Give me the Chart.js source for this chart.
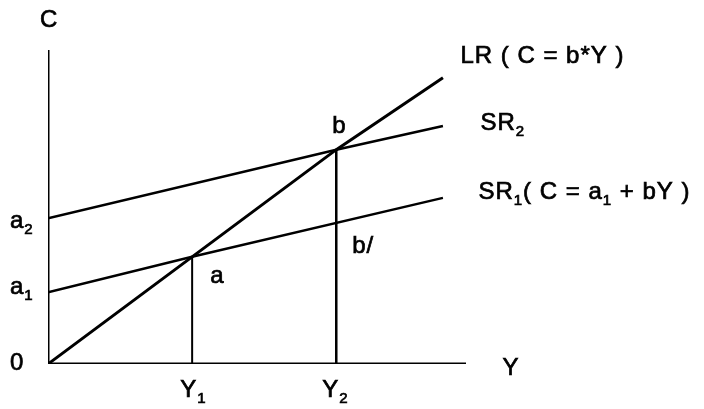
<!DOCTYPE html>
<html>
<head>
<meta charset="utf-8">
<script src="https://cdn.jsdelivr.net/npm/chart.js@4"></script>
<style>
  html, body { margin: 0; padding: 0; background: #fff; }
  #wrap { width: 704px; height: 409px; }
</style>
</head>
<body>
<div id="wrap"><canvas id="consumptionChart"></canvas></div>
<script>
// curves (Y on x axis, C on y axis)
const lrLine = [{ x: 0, y: 0 }, { x: 2, y: 2 }, { x: 2.74, y: 2.67 }];
const sr2Line = [{ x: 0, y: 1.36 }, { x: 2, y: 2 }, { x: 2.74, y: 2.22 }];
const sr1Line = [{ x: 0, y: 0.67 }, { x: 1, y: 1 }, { x: 2.74, y: 1.55 }];
const dropY1 = [{ x: 1, y: 0 }, { x: 1, y: 1 }];
const dropY2 = [{ x: 2, y: 0 }, { x: 2, y: 2 }];
const axisC = [{ x: 0, y: 0 }, { x: 0, y: 2.93 }];
const axisY = [{ x: 0, y: 0 }, { x: 2.9, y: 0 }];

// text labels: parts are [text, isSubscript]
const labels = [
  { x: -0.056, y: 3.14, parts: [["C", false]] },
  { x: -0.264, y: -0.056, parts: [["0", false]] },
  { x: -0.264, y: 0.654, parts: [["a", false], ["1", true]] },
  { x: -0.264, y: 1.271, parts: [["a", false], ["2", true]] },
  { x: 0.917, y: -0.308, parts: [["Y", false], ["1", true]] },
  { x: 1.903, y: -0.308, parts: [["Y", false], ["2", true]] },
  { x: 3.153, y: -0.103, parts: [["Y", false]] },
  { x: 1.125, y: 0.757, parts: [["a", false]] },
  { x: 2.111, y: 1.037, parts: [["b/", false]] },
  { x: 1.972, y: 2.159, parts: [["b", false]] },
  { x: 2.861, y: 2.813, parts: [["LR ( C = b*Y )", false]] },
  { x: 3.0, y: 2.187, parts: [["SR", false], ["2", true]] },
  { x: 2.986, y: 1.542, parts: [["SR", false], ["1", true], ["( C = a", false], ["1", true], [" + bY )", false]] },
];

const FONT = '"Liberation Sans", Arial, sans-serif';

const textPlugin = {
  id: "textLabels",
  afterDraw(chart) {
    const ctx = chart.ctx;
    const xs = chart.scales.x, ys = chart.scales.y;
    ctx.save();
    ctx.fillStyle = "#000";
    ctx.strokeStyle = "#000";
    ctx.lineWidth = 0.7;
    ctx.textAlign = "left";
    ctx.textBaseline = "alphabetic";
    ctx.letterSpacing = "1px";
    labels.forEach((lb) => {
      let px = xs.getPixelForValue(lb.x);
      const py = ys.getPixelForValue(lb.y);
      lb.parts.forEach(([t, sub]) => {
        ctx.font = sub ? "15px " + FONT : "24px " + FONT;
        const ty = sub ? py + 6 : py;
        ctx.fillText(t, px, ty);
        ctx.strokeText(t, px, ty);
        px += ctx.measureText(t).width;
      });
    });
    ctx.restore();
  },
};

function lineSet(data, width) {
  return {
    data: data,
    borderColor: "#000",
    borderWidth: width,
    pointRadius: 0,
    tension: 0,
    fill: false,
  };
}

new Chart(document.getElementById("consumptionChart").getContext("2d"), {
  type: "line",
  data: {
    datasets: [
      lineSet(axisC, 3),
      lineSet(axisY, 3),
      lineSet(lrLine, 3),
      lineSet(sr2Line, 2.5),
      lineSet(sr1Line, 2.5),
      lineSet(dropY1, 2),
      lineSet(dropY2, 2.5),
    ],
  },
  options: {
    responsive: true,
    maintainAspectRatio: false,
    animation: false,
    layout: { padding: { left: 48, right: 238, top: 50, bottom: 45 } },
    plugins: { legend: { display: false }, tooltip: { enabled: false } },
    scales: {
      x: { type: "linear", min: 0, max: 2.9, display: false },
      y: { type: "linear", min: 0, max: 2.93, display: false },
    },
  },
  plugins: [textPlugin],
});
</script>
</body>
</html>
